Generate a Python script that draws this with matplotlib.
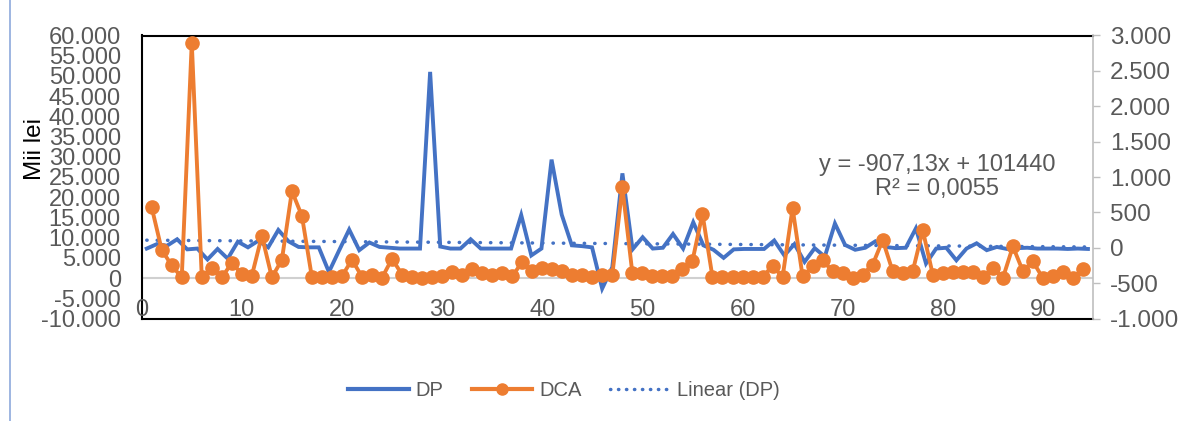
import numpy as np
import matplotlib
matplotlib.use("Agg")
import matplotlib.pyplot as plt
from matplotlib.lines import Line2D

plt.rcParams['font.family'] = ['Liberation Sans', 'DejaVu Sans']

# DP: line on category axis (94 categories), left axis
dp = [7300, 8400, 8000, 9600, 7100, 7300, 4600, 7200, 4800, 9000,
      7600, 9200, 7600, 11900, 9100, 7700, 7600, 7600, 1500, 6800,
      12000, 6900, 8800, 7700, 7500, 7300, 7300, 7300, 51000, 7800,
      7300, 7300, 9600, 7300, 7300, 7300, 7300, 15600, 5600, 7300,
      29300, 15700, 8100, 7900, 7600, -2600, 2700, 25900, 7100, 10100,
      7300, 7500, 10900, 7300, 13800, 8100, 7000, 5000, 7100, 7200,
      7200, 7200, 9300, 5600, 8400, 4000, 7400, 5300, 13500, 8200,
      7000, 7500, 9100, 7700, 7400, 7500, 12300, 3600, 7300, 7500,
      4400, 7300, 8600, 6900, 7700, 7200, 7400, 7500, 7300, 7300,
      7300, 7200, 7300, 7200]

# DCA: scatter with lines, secondary axis
dca = [570, -30, -250, -420, 2900, -420, -290, -420, -215, -370,
       -395, 170, -420, -170, 800, 450, -420, -420, -420, -400,
       -170, -410, -390, -425, -155, -380, -415, -425, -415, -405,
       -345, -380, -300, -360, -380, -360, -405, -200, -330, -290,
       -305, -335, -380, -380, -415, -380, -380, 855, -360, -360,
       -405, -405, -405, -300, -185, 480, -415, -415, -415, -415,
       -415, -415, -255, -415, 560, -405, -265, -175, -335, -357,
       -425, -380, -237, 108, -334, -357, -330, 248, -380, -350,
       -345, -345, -345, -420, -280, -427, 18, -330, -192, -432,
       -395, -345, -430, -300]

cat = np.arange(1, len(dp) + 1)
xs = np.arange(1, len(dca) + 1)

blue = '#4472C4'
orange = '#ED7D31'
grey_txt = '#595959'

fig = plt.figure(figsize=(11.78, 4.21), dpi=100)
rect = [141.7 / 1178, 1 - 318.5 / 421, (1093 - 141.7) / 1178, (318.5 - 35.5) / 421]

ax = fig.add_axes(rect)
ax.set_xlim(0.5, 94.5)
ax.set_ylim(-10000, 60000)
ax.set_yticks(np.arange(-10000, 60001, 5000))
ax.set_yticklabels([f"{v:,}".replace(",", ".") for v in range(-10000, 60001, 5000)])
ax.tick_params(axis='y', length=0, pad=15, labelsize=17, labelcolor=grey_txt)
ax.set_xticks([])
ax.axhline(0, color='#D0D0D0', lw=1.5, zorder=0)
for s in ['top', 'left', 'bottom']:
    ax.spines[s].set_color('black')
    ax.spines[s].set_linewidth(1.5)
ax.spines['right'].set_visible(False)

ax.plot(cat, dp, color=blue, lw=2.8, solid_joinstyle='miter', zorder=2)

# linear trend of DP
k, b = np.polyfit(cat, dp, 1)
ax.plot(cat, k * cat + b, color=blue, lw=2.5, linestyle=(0, (0.1, 2.9)),
        dash_capstyle='round', zorder=1)

ax2 = fig.add_axes(rect)
ax2.patch.set_visible(False)
ax2.set_xlim(0, 95)
ax2.set_ylim(-1000, 3000)
ax2.yaxis.tick_right()
ax2.set_yticks(np.arange(-1000, 3001, 500))
ax2.set_yticklabels([f"{v:,}".replace(",", ".") for v in range(-1000, 3001, 500)])
ax2.tick_params(axis='y', direction='out', length=5, width=1, color='#BFBFBF',
                pad=7, labelsize=17.5, labelcolor=grey_txt)
ax2.set_xticks(np.arange(0, 91, 10))
ax2.tick_params(axis='x', length=0, pad=-14, labelsize=17, labelcolor=grey_txt)
for s in ['top', 'left', 'bottom']:
    ax2.spines[s].set_visible(False)
ax2.spines['right'].set_color('#BFBFBF')
ax2.spines['right'].set_linewidth(1.2)

ax2.plot(xs, dca, color=orange, lw=2.8, marker='o', markersize=9.5, zorder=3)

ax2.text(79.4, 1000, "y = -907,13x + 101440\nR² = 0,0055", ha='center', va='center',
         multialignment='center', fontsize=17, color=grey_txt, linespacing=1.1)

fig.text(35 / 1178, 1 - 149 / 421, "Mii lei", rotation=90, ha='center', va='center',
         fontsize=17.5, color='black')

handles = [
    Line2D([0], [0], color=blue, lw=3),
    Line2D([0], [0], color=orange, lw=3, marker='o', markersize=8),
    Line2D([0], [0], color=blue, lw=2.5, linestyle=(0, (0.1, 2.2)), dash_capstyle='round'),
]
fig.legend(handles, ['DP', 'DCA', 'Linear (DP)'], loc='center', ncol=3,
           bbox_to_anchor=(564 / 1178, 1 - 391 / 421), frameon=False, fontsize=14.5,
           handlelength=3.0, handletextpad=0.35, columnspacing=1.4, labelcolor=grey_txt)

# chart area border
fig.add_artist(Line2D([10 / 1178, 10 / 1178], [0, 1], transform=fig.transFigure,
                      color='#8EA9DB', lw=1.2))

fig.savefig("out.png", dpi=100)
